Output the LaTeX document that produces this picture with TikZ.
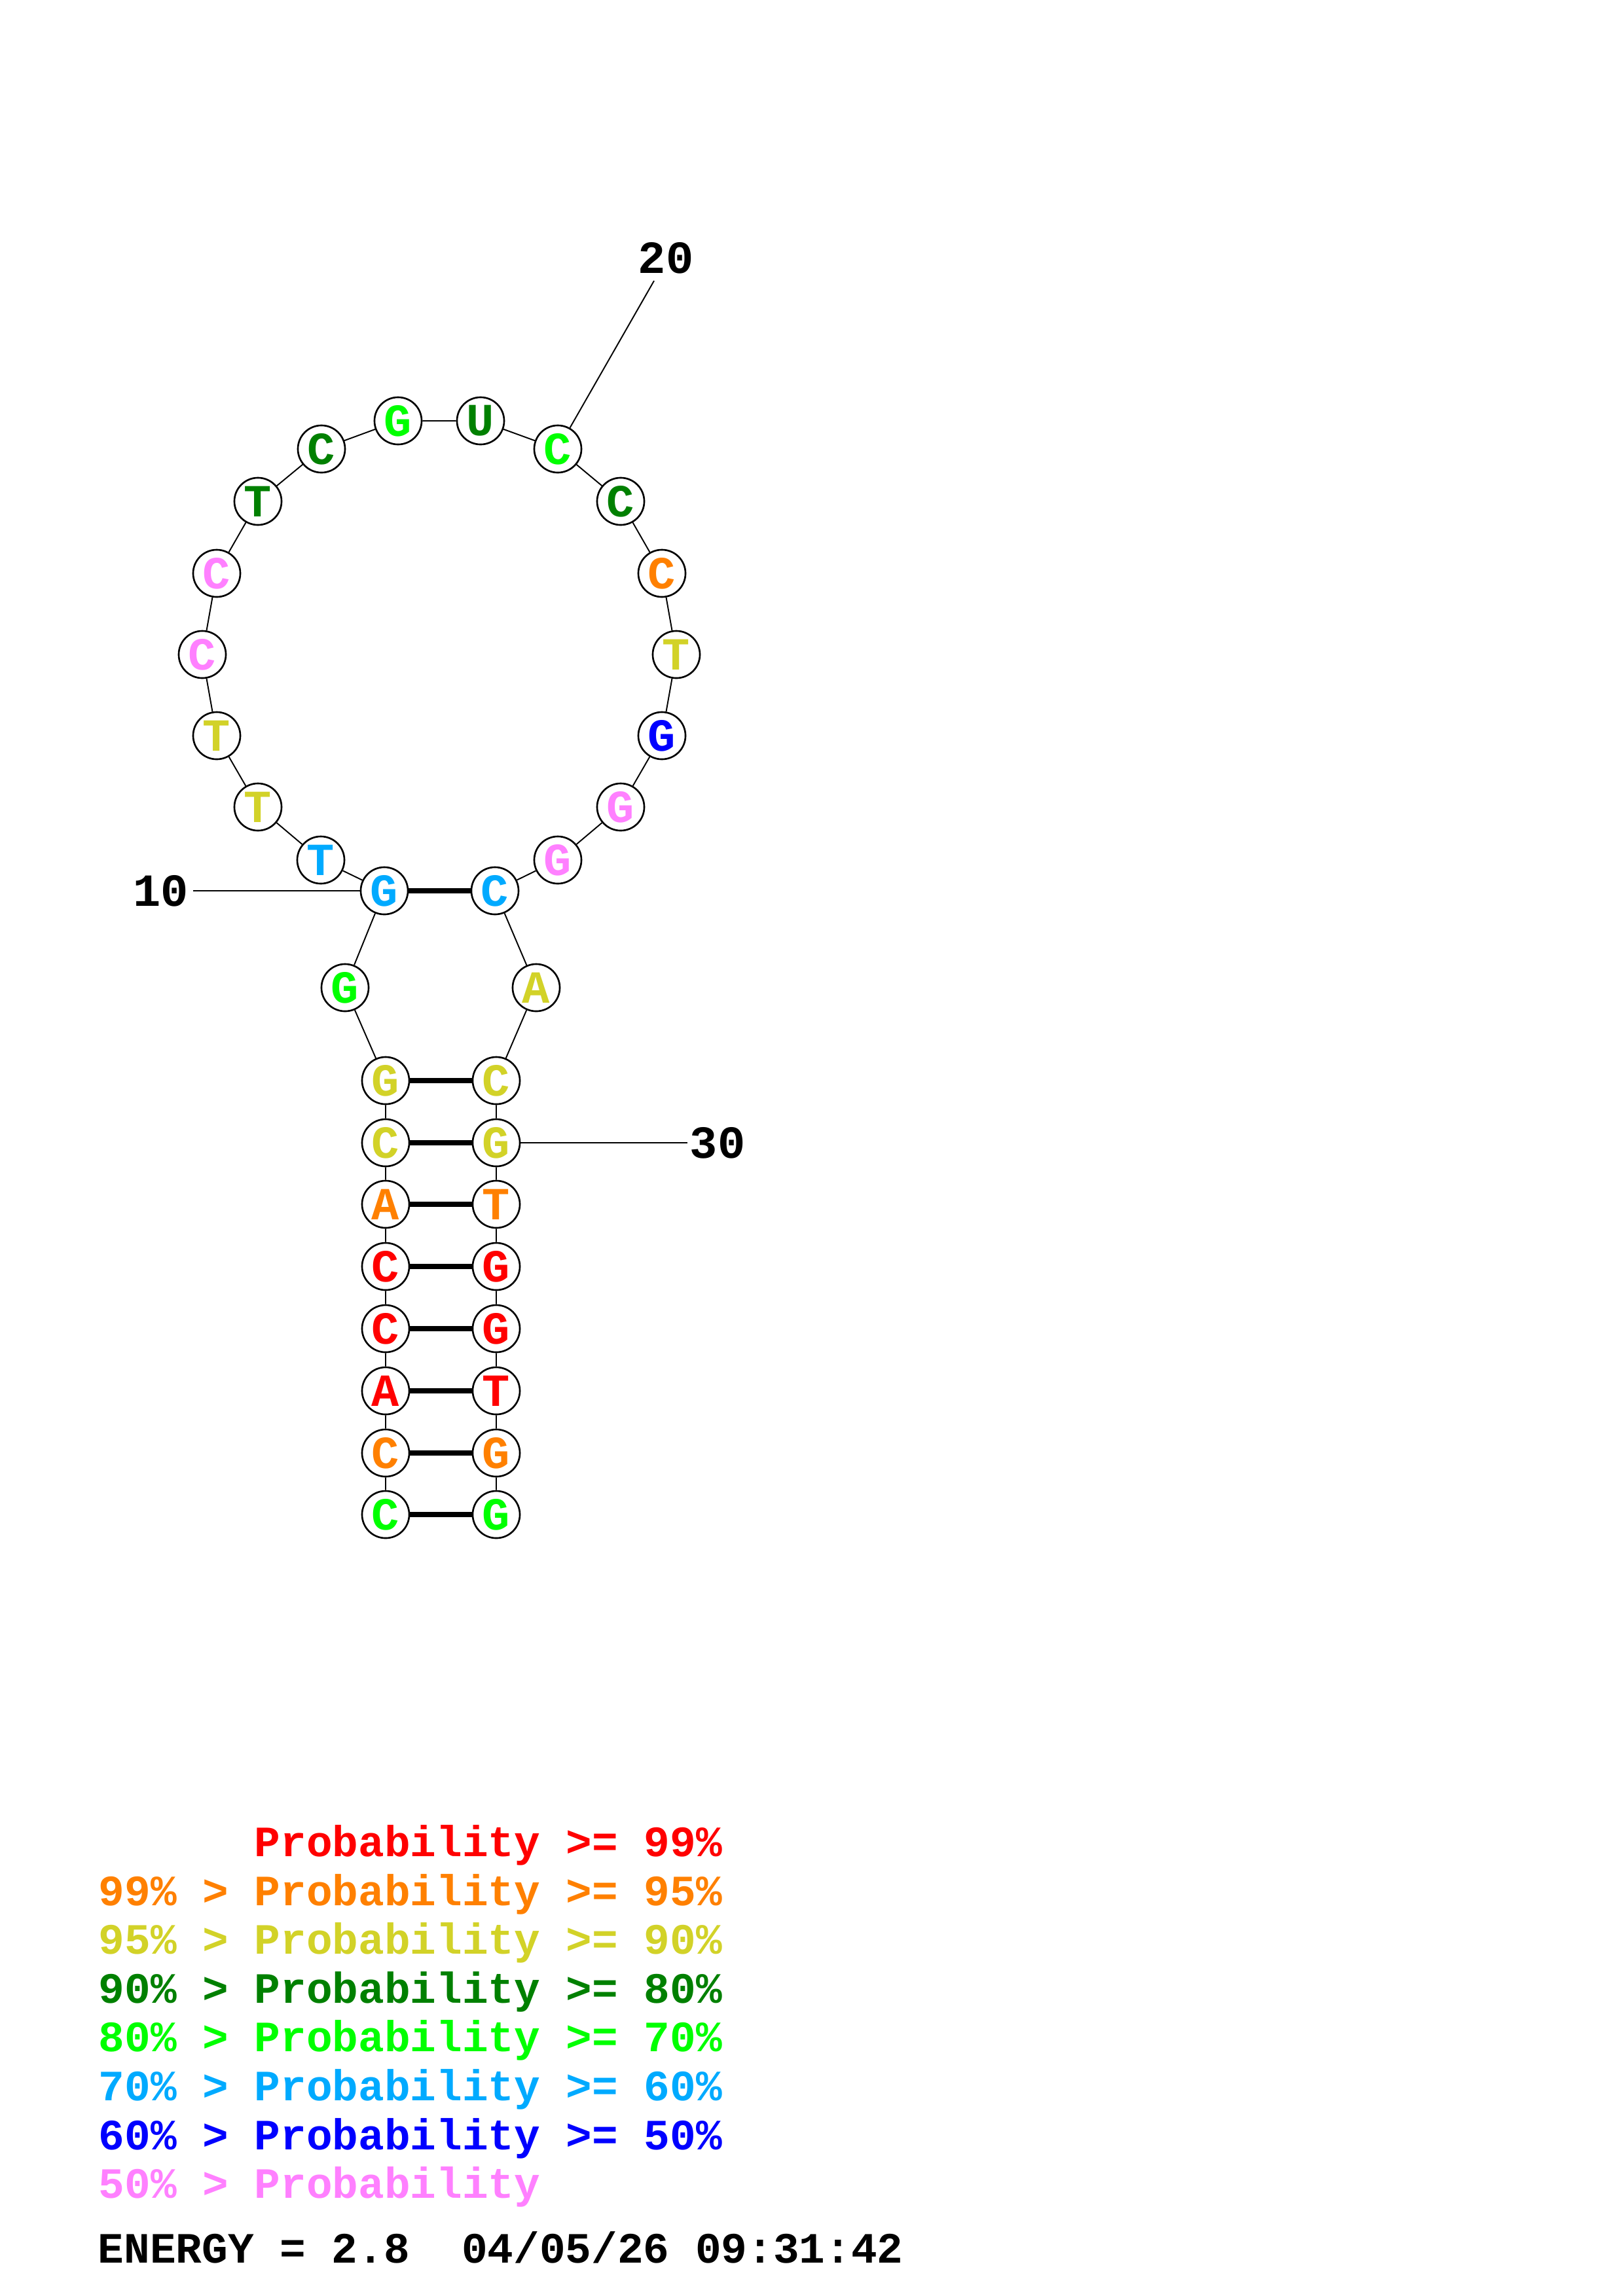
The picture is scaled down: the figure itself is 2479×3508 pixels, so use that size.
\documentclass[tikz,border=0pt]{standalone}
\usepackage{fontspec}
\newfontfamily\rnafont{Liberation Mono}
\usepackage{tikz}
\usetikzlibrary{positioning}
\definecolor{p99}{RGB}{255,0,0}
\definecolor{p95}{RGB}{255,128,0}
\definecolor{p90}{RGB}{210,210,40}
\definecolor{p80}{RGB}{0,128,0}
\definecolor{p70}{RGB}{0,255,0}
\definecolor{p60}{RGB}{0,170,255}
\definecolor{p50}{RGB}{0,0,255}
\definecolor{p00}{RGB}{255,128,255}
\tikzset{
  nt/.style={circle, draw, line width=0.75pt, fill=white, minimum size=0.72cm,
             inner sep=0pt, font=\rnafont\bfseries\fontsize{20}{20}\selectfont},
  numlbl/.style={inner sep=0pt, font=\rnafont\bfseries\fontsize{20}{20}\selectfont},
  legenda/.style={inner sep=0pt, anchor=base west,
                  font=\rnafont\bfseries\fontsize{18.8}{20}\selectfont},
  bb/.style={line width=0.55pt},
  coppia/.style={line width=2.35pt}
}

\begin{document}
\begin{tikzpicture}[x=0.01cm, y=-0.01cm]
    \useasboundingbox (0,0) rectangle (2479,3508);
    % Disegna le basi dello stelo (lato 5')
    \node[nt, text=p70] (n1) at (589,2314) {C};
    \node[nt, text=p95] (n2) at (589,2220) {C};
    \node[nt, text=p99] (n3) at (589,2125) {A};
    \node[nt, text=p99] (n4) at (589,2030) {C};
    \node[nt, text=p99] (n5) at (589,1935) {C};
    \node[nt, text=p95] (n6) at (589,1840) {A};
    \node[nt, text=p90] (n7) at (589,1746) {C};
    \node[nt, text=p90] (n8) at (589,1651) {G};
    \node[nt, text=p70] (n9) at (527,1509) {G};
    \node[nt, text=p60] (n10) at (587,1361) {G};
    % Disegna l'ansa
    \node[nt, text=p60] (n11) at (490,1314) {T};
    \node[nt, text=p90] (n12) at (394,1233) {T};
    \node[nt, text=p90] (n13) at (331,1124) {T};
    \node[nt, text=p00] (n14) at (309,1000) {C};
    \node[nt, text=p00] (n15) at (331,876) {C};
    \node[nt, text=p80] (n16) at (394,766) {T};
    \node[nt, text=p80] (n17) at (491,686) {C};
    \node[nt, text=p70] (n18) at (608,643) {G};
    \node[nt, text=p80] (n19) at (734,643) {U};
    \node[nt, text=p70] (n20) at (852,686) {C};
    \node[nt, text=p80] (n21) at (948,766) {C};
    \node[nt, text=p95] (n22) at (1011,876) {C};
    \node[nt, text=p90] (n23) at (1033,1000) {T};
    \node[nt, text=p50] (n24) at (1011,1124) {G};
    \node[nt, text=p00] (n25) at (948,1233) {G};
    \node[nt, text=p00] (n26) at (852,1314) {G};
    % Disegna le basi dello stelo (lato 3')
    \node[nt, text=p60] (n27) at (756,1361) {C};
    \node[nt, text=p90] (n28) at (819,1509) {A};
    \node[nt, text=p90] (n29) at (758,1651) {C};
    \node[nt, text=p90] (n30) at (758,1746) {G};
    \node[nt, text=p95] (n31) at (758,1840) {T};
    \node[nt, text=p99] (n32) at (758,1935) {G};
    \node[nt, text=p99] (n33) at (758,2030) {G};
    \node[nt, text=p99] (n34) at (758,2125) {T};
    \node[nt, text=p95] (n35) at (758,2220) {G};
    \node[nt, text=p70] (n36) at (758,2314) {G};
    % Disegna lo scheletro
    \draw[bb] (n1) -- (n2) -- (n3) -- (n4) -- (n5) -- (n6) -- (n7) -- (n8) -- (n9)
      -- (n10) -- (n11) -- (n12) -- (n13) -- (n14) -- (n15) -- (n16) -- (n17) -- (n18)
      -- (n19) -- (n20) -- (n21) -- (n22) -- (n23) -- (n24) -- (n25) -- (n26) -- (n27)
      -- (n28) -- (n29) -- (n30) -- (n31) -- (n32) -- (n33) -- (n34) -- (n35) -- (n36);
    % Disegna gli appaiamenti
    \draw[coppia] (n1) -- (n36);
    \draw[coppia] (n2) -- (n35);
    \draw[coppia] (n3) -- (n34);
    \draw[coppia] (n4) -- (n33);
    \draw[coppia] (n5) -- (n32);
    \draw[coppia] (n6) -- (n31);
    \draw[coppia] (n7) -- (n30);
    \draw[coppia] (n8) -- (n29);
    \draw[coppia] (n10) -- (n27);
    % Disegna le etichette di posizione
    \coordinate (c10) at (295,1361);
    \coordinate (c20) at (999,429);
    \coordinate (c30) at (1050,1746);
    \draw[bb] (n10) -- (c10);
    \draw[bb] (n20) -- (c20);
    \draw[bb] (n30) -- (c30);
    \node[numlbl] (t10) at (246,1361) {10};
    \node[numlbl] (t20) at (1017,394) {20};
    \node[numlbl] (t30) at (1096,1746) {30};
    % Disegna la legenda
    \node[legenda, text=p99] (leg1) at (150,2836) {\phantom{99\% > }Probability >= 99\%};
    \node[legenda, text=p95] (leg2) at (150,2911) {99\% > Probability >= 95\%};
    \node[legenda, text=p90] (leg3) at (150,2985) {95\% > Probability >= 90\%};
    \node[legenda, text=p80] (leg4) at (150,3060) {90\% > Probability >= 80\%};
    \node[legenda, text=p70] (leg5) at (150,3134) {80\% > Probability >= 70\%};
    \node[legenda, text=p60] (leg6) at (150,3209) {70\% > Probability >= 60\%};
    \node[legenda, text=p50] (leg7) at (150,3284) {60\% > Probability >= 50\%};
    \node[legenda, text=p00] (leg8) at (150,3358) {50\% > Probability};
    \node[legenda] (energia) at (149,3457) {ENERGY = 2.8\ \ 04/05/26 09:31:42};
\end{tikzpicture}
\end{document}
